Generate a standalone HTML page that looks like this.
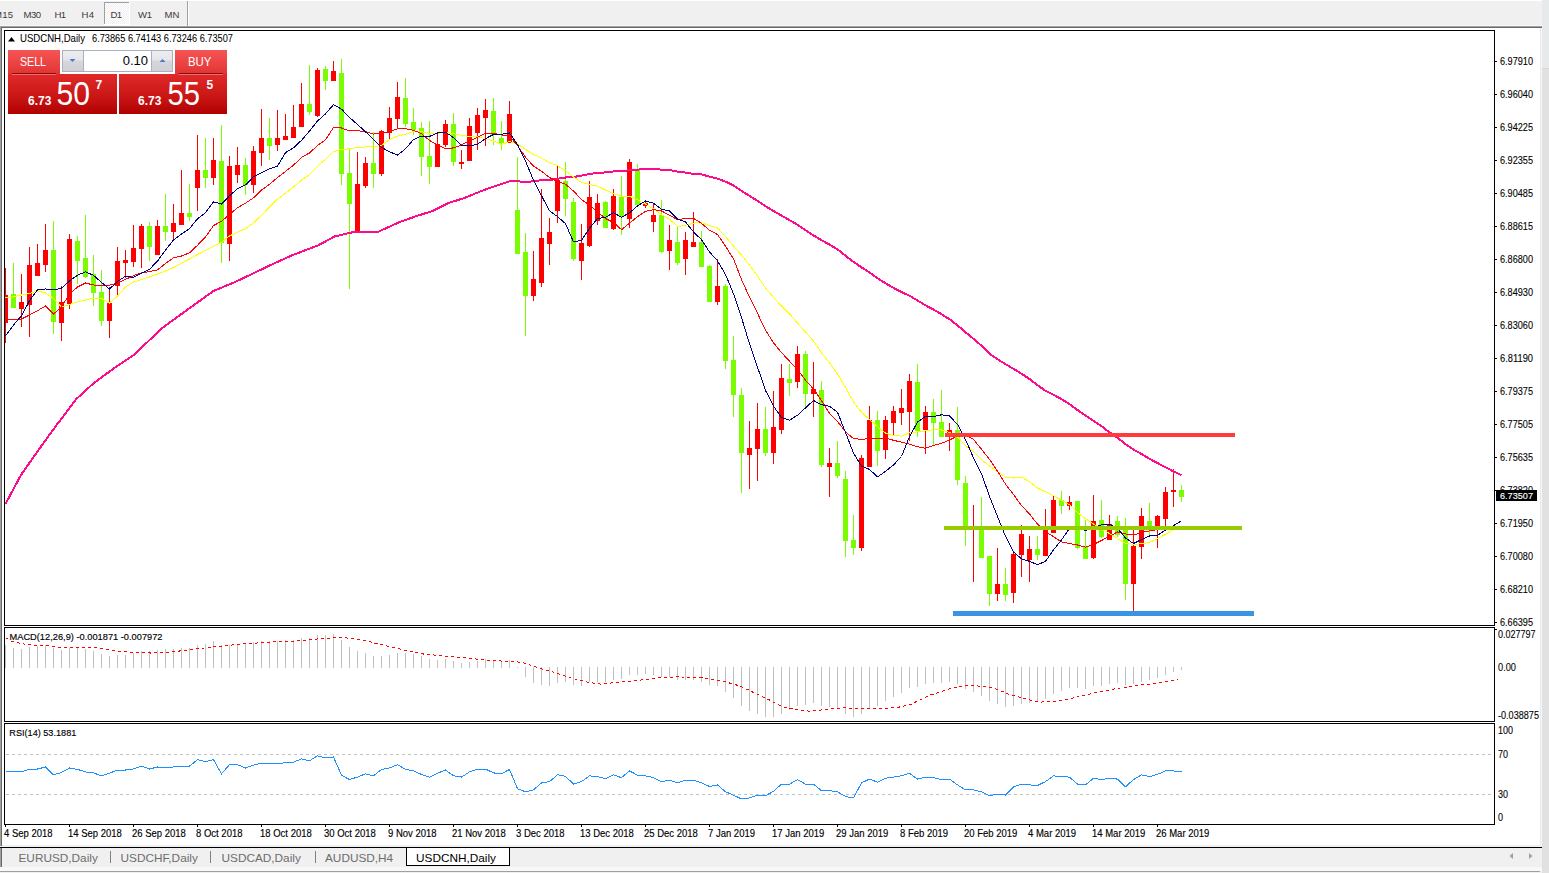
<!DOCTYPE html>
<html><head><meta charset="utf-8"><style>
html,body{margin:0;padding:0;width:1549px;height:873px;overflow:hidden;background:#F0F0F0}
svg{display:block}
</style></head><body>
<svg width="1549" height="873" viewBox="0 0 1549 873" shape-rendering="crispEdges">
<rect x="0" y="0" width="1549" height="873" fill="#F0F0F0" />
<rect x="1542" y="0" width="7" height="873" fill="#E1E1E1" />
<rect x="1542" y="0" width="7" height="68" fill="#E7EAEB" />
<rect x="1542" y="68" width="7" height="1" fill="#D6D6D6" />
<rect x="0" y="25" width="1542" height="1" fill="#F8F8F8" />
<rect x="0" y="26" width="1542" height="1" fill="#A0A0A0" />
<rect x="0" y="27" width="1542" height="1" fill="#696969" />
<rect x="0" y="26" width="1" height="820" fill="#A0A0A0" />
<rect x="1" y="27" width="1" height="819" fill="#696969" />
<rect x="2" y="28" width="1538" height="817" fill="#FFFFFF" />
<rect x="1540" y="28" width="1" height="818" fill="#E8E8E8" />
<rect x="1541" y="28" width="1" height="818" fill="#F8F8F8" />
<rect x="2" y="845" width="1540" height="2" fill="#F0F0F0" />
<rect x="0" y="847" width="1542" height="1" fill="#000000" />
<rect x="0" y="848" width="1" height="19" fill="#A0A0A0" />
<rect x="1" y="848" width="1" height="19" fill="#696969" />
<rect x="0" y="867" width="1542" height="4" fill="#F8F8F8" />
<rect x="0" y="871" width="1540" height="1" fill="#A0A0A0" />
<rect x="0" y="0" width="1542" height="1" fill="#FFFFFF" />
<defs><pattern id="chk" x="0" y="0" width="2" height="2" patternUnits="userSpaceOnUse"><rect width="2" height="2" fill="#F0F0F0"/><rect width="1" height="1" fill="#FFFFFF"/><rect x="1" y="1" width="1" height="1" fill="#FFFFFF"/></pattern></defs>
<rect x="104" y="2" width="25" height="1" fill="#A0A0A0" />
<rect x="104" y="2" width="1" height="23" fill="#A0A0A0" />
<rect x="105" y="3" width="24" height="21" fill="url(#chk)" />
<rect x="129" y="2" width="1" height="23" fill="#FFFFFF" />
<rect x="104" y="24" width="26" height="1" fill="#FFFFFF" />
<rect x="187" y="1" width="1" height="25" fill="#A0A0A0" />
<rect x="188" y="1" width="1" height="25" fill="#FFFFFF" />
<text x="-6" y="18" font-family="Liberation Sans" font-size="9.6" fill="#45383E" textLength="19" lengthAdjust="spacing">M15</text>
<text x="23.5" y="18" font-family="Liberation Sans" font-size="9.6" fill="#45383E" textLength="17.5" lengthAdjust="spacing">M30</text>
<text x="54.6" y="18" font-family="Liberation Sans" font-size="9.6" fill="#45383E" textLength="11.4" lengthAdjust="spacing">H1</text>
<text x="81.6" y="18" font-family="Liberation Sans" font-size="9.6" fill="#45383E" textLength="12.4" lengthAdjust="spacing">H4</text>
<text x="110.6" y="18" font-family="Liberation Sans" font-size="9.6" fill="#45383E" textLength="11.4" lengthAdjust="spacing">D1</text>
<text x="138" y="18" font-family="Liberation Sans" font-size="9.6" fill="#45383E" textLength="14" lengthAdjust="spacing">W1</text>
<text x="164.6" y="18" font-family="Liberation Sans" font-size="9.6" fill="#45383E" textLength="14.9" lengthAdjust="spacing">MN</text>
<defs><clipPath id="cm"><rect x="5" y="31" width="1489" height="594"/></clipPath><clipPath id="cd"><rect x="5" y="628" width="1489" height="93"/></clipPath><pattern id="dp" x="6" y="0" width="6" height="10" patternUnits="userSpaceOnUse"><rect x="0" y="0" width="3" height="10" fill="#fff"/></pattern><mask id="dash"><rect x="0" y="0" width="1549" height="873" fill="url(#dp)"/></mask><clipPath id="cr"><rect x="5" y="724" width="1489" height="100"/></clipPath></defs>
<g clip-path="url(#cm)">
<rect x="5" y="268" width="1" height="75" fill="#FF0000" />
<rect x="3" y="295" width="5" height="28" fill="#FF0000" />
<rect x="13" y="263" width="1" height="45" fill="#7CFC00" />
<rect x="11" y="294" width="5" height="14" fill="#7CFC00" />
<rect x="21" y="274" width="1" height="53" fill="#FF0000" />
<rect x="19" y="302" width="5" height="7" fill="#FF0000" />
<rect x="29" y="247" width="1" height="90" fill="#FF0000" />
<rect x="27" y="265" width="5" height="40" fill="#FF0000" />
<rect x="37" y="244" width="1" height="32" fill="#FF0000" />
<rect x="35" y="263" width="5" height="13" fill="#FF0000" />
<rect x="45" y="224" width="1" height="48" fill="#FF0000" />
<rect x="43" y="250" width="5" height="15" fill="#FF0000" />
<rect x="53" y="221" width="1" height="113" fill="#7CFC00" />
<rect x="51" y="250" width="5" height="72" fill="#7CFC00" />
<rect x="61" y="286" width="1" height="55" fill="#FF0000" />
<rect x="59" y="302" width="5" height="21" fill="#FF0000" />
<rect x="69" y="234" width="1" height="75" fill="#FF0000" />
<rect x="67" y="239" width="5" height="65" fill="#FF0000" />
<rect x="77" y="236" width="1" height="48" fill="#7CFC00" />
<rect x="75" y="241" width="5" height="20" fill="#7CFC00" />
<rect x="85" y="215" width="1" height="63" fill="#7CFC00" />
<rect x="83" y="258" width="5" height="19" fill="#7CFC00" />
<rect x="93" y="255" width="1" height="51" fill="#7CFC00" />
<rect x="91" y="274" width="5" height="19" fill="#7CFC00" />
<rect x="101" y="270" width="1" height="56" fill="#7CFC00" />
<rect x="99" y="292" width="5" height="29" fill="#7CFC00" />
<rect x="109" y="287" width="1" height="51" fill="#FF0000" />
<rect x="107" y="303" width="5" height="18" fill="#FF0000" />
<rect x="117" y="247" width="1" height="48" fill="#FF0000" />
<rect x="115" y="261" width="5" height="25" fill="#FF0000" />
<rect x="125" y="250" width="1" height="28" fill="#FF0000" />
<rect x="123" y="260" width="5" height="3" fill="#FF0000" />
<rect x="133" y="225" width="1" height="42" fill="#FF0000" />
<rect x="131" y="248" width="5" height="14" fill="#FF0000" />
<rect x="141" y="224" width="1" height="44" fill="#FF0000" />
<rect x="139" y="226" width="5" height="23" fill="#FF0000" />
<rect x="149" y="222" width="1" height="39" fill="#7CFC00" />
<rect x="147" y="226" width="5" height="21" fill="#7CFC00" />
<rect x="157" y="220" width="1" height="35" fill="#FF0000" />
<rect x="155" y="226" width="5" height="29" fill="#FF0000" />
<rect x="165" y="194" width="1" height="47" fill="#7CFC00" />
<rect x="163" y="226" width="5" height="6" fill="#7CFC00" />
<rect x="173" y="204" width="1" height="37" fill="#FF0000" />
<rect x="171" y="223" width="5" height="9" fill="#FF0000" />
<rect x="181" y="170" width="1" height="55" fill="#FF0000" />
<rect x="179" y="213" width="5" height="12" fill="#FF0000" />
<rect x="189" y="184" width="1" height="37" fill="#7CFC00" />
<rect x="187" y="213" width="5" height="4" fill="#7CFC00" />
<rect x="197" y="135" width="1" height="76" fill="#FF0000" />
<rect x="195" y="170" width="5" height="18" fill="#FF0000" />
<rect x="205" y="138" width="1" height="50" fill="#7CFC00" />
<rect x="203" y="170" width="5" height="8" fill="#7CFC00" />
<rect x="213" y="138" width="1" height="47" fill="#FF0000" />
<rect x="211" y="160" width="5" height="18" fill="#FF0000" />
<rect x="221" y="125" width="1" height="138" fill="#7CFC00" />
<rect x="219" y="161" width="5" height="82" fill="#7CFC00" />
<rect x="229" y="156" width="1" height="105" fill="#FF0000" />
<rect x="227" y="166" width="5" height="78" fill="#FF0000" />
<rect x="237" y="147" width="1" height="36" fill="#FF0000" />
<rect x="235" y="165" width="5" height="10" fill="#FF0000" />
<rect x="245" y="158" width="1" height="37" fill="#7CFC00" />
<rect x="243" y="165" width="5" height="20" fill="#7CFC00" />
<rect x="253" y="146" width="1" height="47" fill="#FF0000" />
<rect x="251" y="151" width="5" height="34" fill="#FF0000" />
<rect x="261" y="109" width="1" height="57" fill="#FF0000" />
<rect x="259" y="138" width="5" height="15" fill="#FF0000" />
<rect x="269" y="118" width="1" height="42" fill="#7CFC00" />
<rect x="267" y="138" width="5" height="8" fill="#7CFC00" />
<rect x="277" y="110" width="1" height="41" fill="#FF0000" />
<rect x="275" y="138" width="5" height="7" fill="#FF0000" />
<rect x="285" y="114" width="1" height="26" fill="#FF0000" />
<rect x="283" y="136" width="5" height="4" fill="#FF0000" />
<rect x="293" y="105" width="1" height="33" fill="#FF0000" />
<rect x="291" y="127" width="5" height="11" fill="#FF0000" />
<rect x="301" y="83" width="1" height="44" fill="#FF0000" />
<rect x="299" y="104" width="5" height="23" fill="#FF0000" />
<rect x="309" y="65" width="1" height="50" fill="#7CFC00" />
<rect x="307" y="104" width="5" height="8" fill="#7CFC00" />
<rect x="317" y="68" width="1" height="49" fill="#FF0000" />
<rect x="315" y="70" width="5" height="46" fill="#FF0000" />
<rect x="325" y="66" width="1" height="24" fill="#7CFC00" />
<rect x="323" y="69" width="5" height="12" fill="#7CFC00" />
<rect x="333" y="61" width="1" height="20" fill="#FF0000" />
<rect x="331" y="71" width="5" height="10" fill="#FF0000" />
<rect x="341" y="59" width="1" height="126" fill="#7CFC00" />
<rect x="339" y="73" width="5" height="101" fill="#7CFC00" />
<rect x="349" y="148" width="1" height="141" fill="#7CFC00" />
<rect x="347" y="173" width="5" height="31" fill="#7CFC00" />
<rect x="357" y="152" width="1" height="81" fill="#FF0000" />
<rect x="355" y="184" width="5" height="49" fill="#FF0000" />
<rect x="365" y="157" width="1" height="31" fill="#FF0000" />
<rect x="363" y="163" width="5" height="23" fill="#FF0000" />
<rect x="373" y="132" width="1" height="56" fill="#7CFC00" />
<rect x="371" y="163" width="5" height="11" fill="#7CFC00" />
<rect x="381" y="130" width="1" height="46" fill="#FF0000" />
<rect x="379" y="131" width="5" height="43" fill="#FF0000" />
<rect x="389" y="107" width="1" height="32" fill="#FF0000" />
<rect x="387" y="118" width="5" height="15" fill="#FF0000" />
<rect x="397" y="82" width="1" height="46" fill="#FF0000" />
<rect x="395" y="97" width="5" height="22" fill="#FF0000" />
<rect x="405" y="78" width="1" height="49" fill="#7CFC00" />
<rect x="403" y="98" width="5" height="26" fill="#7CFC00" />
<rect x="413" y="108" width="1" height="27" fill="#7CFC00" />
<rect x="411" y="122" width="5" height="8" fill="#7CFC00" />
<rect x="421" y="122" width="1" height="54" fill="#7CFC00" />
<rect x="419" y="128" width="5" height="29" fill="#7CFC00" />
<rect x="429" y="121" width="1" height="63" fill="#7CFC00" />
<rect x="427" y="156" width="5" height="11" fill="#7CFC00" />
<rect x="437" y="133" width="1" height="34" fill="#FF0000" />
<rect x="435" y="144" width="5" height="23" fill="#FF0000" />
<rect x="445" y="120" width="1" height="27" fill="#FF0000" />
<rect x="443" y="124" width="5" height="21" fill="#FF0000" />
<rect x="453" y="113" width="1" height="53" fill="#7CFC00" />
<rect x="451" y="124" width="5" height="38" fill="#7CFC00" />
<rect x="461" y="150" width="1" height="19" fill="#FF0000" />
<rect x="459" y="162" width="5" height="2" fill="#FF0000" />
<rect x="469" y="118" width="1" height="43" fill="#FF0000" />
<rect x="467" y="126" width="5" height="35" fill="#FF0000" />
<rect x="477" y="108" width="1" height="42" fill="#FF0000" />
<rect x="475" y="115" width="5" height="18" fill="#FF0000" />
<rect x="485" y="99" width="1" height="47" fill="#FF0000" />
<rect x="483" y="110" width="5" height="8" fill="#FF0000" />
<rect x="493" y="98" width="1" height="47" fill="#7CFC00" />
<rect x="491" y="111" width="5" height="24" fill="#7CFC00" />
<rect x="501" y="121" width="1" height="29" fill="#7CFC00" />
<rect x="499" y="138" width="5" height="5" fill="#7CFC00" />
<rect x="509" y="101" width="1" height="42" fill="#FF0000" />
<rect x="507" y="114" width="5" height="29" fill="#FF0000" />
<rect x="517" y="157" width="1" height="97" fill="#7CFC00" />
<rect x="515" y="210" width="5" height="44" fill="#7CFC00" />
<rect x="525" y="233" width="1" height="103" fill="#7CFC00" />
<rect x="523" y="252" width="5" height="44" fill="#7CFC00" />
<rect x="533" y="251" width="1" height="50" fill="#FF0000" />
<rect x="531" y="279" width="5" height="17" fill="#FF0000" />
<rect x="541" y="189" width="1" height="98" fill="#FF0000" />
<rect x="539" y="238" width="5" height="45" fill="#FF0000" />
<rect x="549" y="218" width="1" height="47" fill="#FF0000" />
<rect x="547" y="232" width="5" height="12" fill="#FF0000" />
<rect x="557" y="166" width="1" height="57" fill="#FF0000" />
<rect x="555" y="180" width="5" height="31" fill="#FF0000" />
<rect x="565" y="162" width="1" height="54" fill="#7CFC00" />
<rect x="563" y="181" width="5" height="18" fill="#7CFC00" />
<rect x="573" y="198" width="1" height="63" fill="#7CFC00" />
<rect x="571" y="202" width="5" height="57" fill="#7CFC00" />
<rect x="581" y="224" width="1" height="56" fill="#FF0000" />
<rect x="579" y="243" width="5" height="18" fill="#FF0000" />
<rect x="589" y="181" width="1" height="66" fill="#FF0000" />
<rect x="587" y="197" width="5" height="49" fill="#FF0000" />
<rect x="597" y="194" width="1" height="31" fill="#FF0000" />
<rect x="595" y="203" width="5" height="18" fill="#FF0000" />
<rect x="605" y="201" width="1" height="27" fill="#7CFC00" />
<rect x="603" y="202" width="5" height="26" fill="#7CFC00" />
<rect x="613" y="189" width="1" height="41" fill="#FF0000" />
<rect x="611" y="196" width="5" height="33" fill="#FF0000" />
<rect x="621" y="176" width="1" height="59" fill="#7CFC00" />
<rect x="619" y="197" width="5" height="20" fill="#7CFC00" />
<rect x="629" y="159" width="1" height="69" fill="#FF0000" />
<rect x="627" y="162" width="5" height="57" fill="#FF0000" />
<rect x="637" y="164" width="1" height="41" fill="#7CFC00" />
<rect x="635" y="170" width="5" height="35" fill="#7CFC00" />
<rect x="645" y="201" width="1" height="7" fill="#FF0000" />
<rect x="643" y="203" width="5" height="3" fill="#FF0000" />
<rect x="653" y="204" width="1" height="28" fill="#FF0000" />
<rect x="651" y="215" width="5" height="7" fill="#FF0000" />
<rect x="661" y="200" width="1" height="53" fill="#7CFC00" />
<rect x="659" y="215" width="5" height="37" fill="#7CFC00" />
<rect x="669" y="225" width="1" height="45" fill="#FF0000" />
<rect x="667" y="240" width="5" height="11" fill="#FF0000" />
<rect x="677" y="227" width="1" height="38" fill="#7CFC00" />
<rect x="675" y="242" width="5" height="21" fill="#7CFC00" />
<rect x="685" y="232" width="1" height="43" fill="#FF0000" />
<rect x="683" y="240" width="5" height="19" fill="#FF0000" />
<rect x="693" y="212" width="1" height="35" fill="#FF0000" />
<rect x="691" y="242" width="5" height="5" fill="#FF0000" />
<rect x="701" y="231" width="1" height="36" fill="#7CFC00" />
<rect x="699" y="242" width="5" height="25" fill="#7CFC00" />
<rect x="709" y="265" width="1" height="37" fill="#7CFC00" />
<rect x="707" y="266" width="5" height="36" fill="#7CFC00" />
<rect x="717" y="259" width="1" height="46" fill="#FF0000" />
<rect x="715" y="286" width="5" height="16" fill="#FF0000" />
<rect x="725" y="284" width="1" height="85" fill="#7CFC00" />
<rect x="723" y="286" width="5" height="75" fill="#7CFC00" />
<rect x="733" y="336" width="1" height="81" fill="#7CFC00" />
<rect x="731" y="360" width="5" height="35" fill="#7CFC00" />
<rect x="741" y="388" width="1" height="105" fill="#7CFC00" />
<rect x="739" y="395" width="5" height="58" fill="#7CFC00" />
<rect x="749" y="421" width="1" height="68" fill="#FF0000" />
<rect x="747" y="448" width="5" height="7" fill="#FF0000" />
<rect x="757" y="403" width="1" height="78" fill="#FF0000" />
<rect x="755" y="429" width="5" height="20" fill="#FF0000" />
<rect x="765" y="407" width="1" height="49" fill="#7CFC00" />
<rect x="763" y="429" width="5" height="24" fill="#7CFC00" />
<rect x="773" y="391" width="1" height="73" fill="#FF0000" />
<rect x="771" y="427" width="5" height="26" fill="#FF0000" />
<rect x="781" y="364" width="1" height="70" fill="#FF0000" />
<rect x="779" y="378" width="5" height="52" fill="#FF0000" />
<rect x="789" y="364" width="1" height="32" fill="#7CFC00" />
<rect x="787" y="379" width="5" height="4" fill="#7CFC00" />
<rect x="797" y="346" width="1" height="42" fill="#FF0000" />
<rect x="795" y="354" width="5" height="28" fill="#FF0000" />
<rect x="805" y="351" width="1" height="56" fill="#7CFC00" />
<rect x="803" y="354" width="5" height="40" fill="#7CFC00" />
<rect x="813" y="362" width="1" height="55" fill="#FF0000" />
<rect x="811" y="389" width="5" height="5" fill="#FF0000" />
<rect x="821" y="381" width="1" height="86" fill="#7CFC00" />
<rect x="819" y="390" width="5" height="75" fill="#7CFC00" />
<rect x="829" y="448" width="1" height="49" fill="#FF0000" />
<rect x="827" y="463" width="5" height="4" fill="#FF0000" />
<rect x="837" y="441" width="1" height="37" fill="#7CFC00" />
<rect x="835" y="463" width="5" height="13" fill="#7CFC00" />
<rect x="845" y="471" width="1" height="86" fill="#7CFC00" />
<rect x="843" y="479" width="5" height="62" fill="#7CFC00" />
<rect x="853" y="515" width="1" height="40" fill="#7CFC00" />
<rect x="851" y="540" width="5" height="8" fill="#7CFC00" />
<rect x="861" y="455" width="1" height="96" fill="#FF0000" />
<rect x="859" y="458" width="5" height="90" fill="#FF0000" />
<rect x="869" y="406" width="1" height="61" fill="#FF0000" />
<rect x="867" y="420" width="5" height="47" fill="#FF0000" />
<rect x="877" y="411" width="1" height="55" fill="#7CFC00" />
<rect x="875" y="420" width="5" height="31" fill="#7CFC00" />
<rect x="885" y="416" width="1" height="43" fill="#FF0000" />
<rect x="883" y="420" width="5" height="30" fill="#FF0000" />
<rect x="893" y="406" width="1" height="29" fill="#FF0000" />
<rect x="891" y="411" width="5" height="12" fill="#FF0000" />
<rect x="901" y="389" width="1" height="36" fill="#FF0000" />
<rect x="899" y="408" width="5" height="5" fill="#FF0000" />
<rect x="909" y="374" width="1" height="67" fill="#FF0000" />
<rect x="907" y="381" width="5" height="31" fill="#FF0000" />
<rect x="917" y="364" width="1" height="73" fill="#7CFC00" />
<rect x="915" y="382" width="5" height="49" fill="#7CFC00" />
<rect x="925" y="406" width="1" height="48" fill="#FF0000" />
<rect x="923" y="412" width="5" height="18" fill="#FF0000" />
<rect x="933" y="399" width="1" height="47" fill="#7CFC00" />
<rect x="931" y="412" width="5" height="11" fill="#7CFC00" />
<rect x="941" y="390" width="1" height="45" fill="#7CFC00" />
<rect x="939" y="422" width="5" height="15" fill="#7CFC00" />
<rect x="949" y="423" width="1" height="28" fill="#FF0000" />
<rect x="947" y="430" width="5" height="4" fill="#FF0000" />
<rect x="957" y="407" width="1" height="78" fill="#7CFC00" />
<rect x="955" y="430" width="5" height="50" fill="#7CFC00" />
<rect x="965" y="476" width="1" height="70" fill="#7CFC00" />
<rect x="963" y="483" width="5" height="46" fill="#7CFC00" />
<rect x="973" y="505" width="1" height="77" fill="#FF0000" />
<rect x="971" y="527" width="5" height="3" fill="#FF0000" />
<rect x="981" y="497" width="1" height="61" fill="#7CFC00" />
<rect x="979" y="528" width="5" height="30" fill="#7CFC00" />
<rect x="989" y="556" width="1" height="50" fill="#7CFC00" />
<rect x="987" y="556" width="5" height="38" fill="#7CFC00" />
<rect x="997" y="548" width="1" height="53" fill="#FF0000" />
<rect x="995" y="584" width="5" height="10" fill="#FF0000" />
<rect x="1005" y="568" width="1" height="33" fill="#7CFC00" />
<rect x="1003" y="584" width="5" height="11" fill="#7CFC00" />
<rect x="1013" y="552" width="1" height="51" fill="#FF0000" />
<rect x="1011" y="554" width="5" height="39" fill="#FF0000" />
<rect x="1021" y="525" width="1" height="52" fill="#FF0000" />
<rect x="1019" y="534" width="5" height="21" fill="#FF0000" />
<rect x="1029" y="536" width="1" height="46" fill="#FF0000" />
<rect x="1027" y="549" width="5" height="11" fill="#FF0000" />
<rect x="1037" y="536" width="1" height="24" fill="#7CFC00" />
<rect x="1035" y="549" width="5" height="6" fill="#7CFC00" />
<rect x="1045" y="509" width="1" height="47" fill="#FF0000" />
<rect x="1043" y="530" width="5" height="26" fill="#FF0000" />
<rect x="1053" y="496" width="1" height="37" fill="#FF0000" />
<rect x="1051" y="500" width="5" height="33" fill="#FF0000" />
<rect x="1061" y="491" width="1" height="23" fill="#7CFC00" />
<rect x="1059" y="500" width="5" height="6" fill="#7CFC00" />
<rect x="1069" y="496" width="1" height="14" fill="#FF0000" />
<rect x="1067" y="502" width="5" height="4" fill="#FF0000" />
<rect x="1077" y="501" width="1" height="48" fill="#7CFC00" />
<rect x="1075" y="501" width="5" height="47" fill="#7CFC00" />
<rect x="1085" y="520" width="1" height="39" fill="#7CFC00" />
<rect x="1083" y="547" width="5" height="12" fill="#7CFC00" />
<rect x="1093" y="495" width="1" height="64" fill="#FF0000" />
<rect x="1091" y="521" width="5" height="37" fill="#FF0000" />
<rect x="1101" y="500" width="1" height="38" fill="#7CFC00" />
<rect x="1099" y="520" width="5" height="17" fill="#7CFC00" />
<rect x="1109" y="515" width="1" height="25" fill="#FF0000" />
<rect x="1107" y="524" width="5" height="16" fill="#FF0000" />
<rect x="1117" y="516" width="1" height="21" fill="#7CFC00" />
<rect x="1115" y="521" width="5" height="14" fill="#7CFC00" />
<rect x="1125" y="518" width="1" height="82" fill="#7CFC00" />
<rect x="1123" y="528" width="5" height="56" fill="#7CFC00" />
<rect x="1133" y="530" width="1" height="82" fill="#FF0000" />
<rect x="1131" y="546" width="5" height="38" fill="#FF0000" />
<rect x="1141" y="508" width="1" height="51" fill="#FF0000" />
<rect x="1139" y="516" width="5" height="31" fill="#FF0000" />
<rect x="1149" y="503" width="1" height="34" fill="#7CFC00" />
<rect x="1147" y="521" width="5" height="8" fill="#7CFC00" />
<rect x="1157" y="515" width="1" height="33" fill="#FF0000" />
<rect x="1155" y="516" width="5" height="12" fill="#FF0000" />
<rect x="1165" y="487" width="1" height="40" fill="#FF0000" />
<rect x="1163" y="492" width="5" height="27" fill="#FF0000" />
<rect x="1173" y="469" width="1" height="38" fill="#FF0000" />
<rect x="1171" y="490" width="5" height="2" fill="#FF0000" />
<rect x="1181" y="485" width="1" height="17" fill="#7CFC00" />
<rect x="1179" y="490" width="5" height="7" fill="#7CFC00" />
<polyline points="5.5,504.0 21.1,474.8 41.7,445.5 55.5,426.5 76.1,399.2 93.3,383.5 113.9,368.3 134.5,354.5 161.5,328.5 182.5,313.3 213.5,290.9 234.2,282.4 250.5,274.7 271.1,264.8 291.7,255.5 318.5,245.2 334.5,236.5 351.5,232.5 378.3,231.8 398.5,222.5 415.5,216.4 431.9,211.2 448.5,203.0 464.9,197.8 477.5,192.6 485.5,189.5 493.5,186.6 501.5,183.9 509.5,181.4 517.5,181.3 525.5,182.0 533.5,181.3 541.5,180.2 549.5,180.1 557.5,178.8 565.5,177.5 573.5,177.0 581.5,175.7 589.5,173.9 597.5,172.9 605.5,172.4 613.5,171.5 621.5,171.4 629.5,170.0 637.5,169.6 645.5,169.1 653.5,169.0 661.5,169.6 669.5,170.0 677.5,171.6 685.5,172.6 693.5,174.0 701.5,174.4 709.5,176.6 717.5,178.6 725.5,181.6 733.5,185.6 741.5,190.9 749.5,195.9 757.5,200.8 765.5,206.1 773.5,211.0 781.5,215.6 789.5,220.1 797.5,224.8 805.5,230.1 813.5,235.4 821.5,240.2 829.5,244.6 837.5,249.4 845.5,255.7 853.5,261.9 861.5,267.4 869.5,272.4 877.5,278.3 885.5,283.2 893.5,287.9 901.5,292.1 909.5,295.7 917.5,300.5 925.5,305.3 933.5,309.6 941.5,314.2 949.5,319.2 957.5,325.3 965.5,332.3 973.5,338.8 981.5,345.7 989.5,353.7 997.5,359.2 1005.5,364.2 1013.5,368.8 1021.5,373.7 1029.5,379.0 1037.5,385.2 1045.5,390.8 1053.5,394.8 1061.5,399.1 1069.5,404.2 1077.5,410.0 1085.5,415.5 1093.5,420.9 1101.5,426.2 1109.5,432.3 1117.5,437.8 1125.5,444.1 1133.5,449.6 1141.5,454.0 1149.5,458.8 1157.5,463.1 1165.5,467.3 1173.5,471.4 1181.5,475.3" fill="none" stroke="#FF0A8C" stroke-width="2" />
<polyline points="5.5,298.0 13.5,296.7 21.5,295.0 29.5,293.6 37.5,291.0 45.5,293.0 53.5,298.4 61.5,307.0 69.5,304.7 77.5,301.8 85.5,300.0 93.5,298.4 101.5,298.4 109.5,303.0 117.5,296.0 125.5,287.0 133.5,282.0 141.5,279.6 149.5,277.0 165.5,271.0 173.5,267.6 181.5,263.1 189.5,259.0 197.5,254.5 205.5,250.4 213.5,246.1 221.5,242.4 229.5,235.9 237.5,232.3 245.5,228.7 253.5,222.8 261.5,215.4 269.5,207.1 277.5,199.2 285.5,193.3 293.5,187.0 301.5,180.1 309.5,174.6 317.5,166.3 325.5,159.4 333.5,151.7 341.5,149.3 349.5,148.9 357.5,147.3 365.5,147.0 373.5,146.8 381.5,145.4 389.5,139.5 397.5,136.2 405.5,134.2 413.5,131.6 421.5,131.8 429.5,133.2 437.5,133.2 445.5,132.5 453.5,133.7 461.5,135.4 469.5,136.4 477.5,136.6 485.5,138.5 493.5,141.0 501.5,144.4 509.5,141.6 517.5,144.0 525.5,149.3 533.5,154.8 541.5,157.9 549.5,162.8 557.5,165.7 565.5,170.6 573.5,177.0 581.5,182.5 589.5,184.4 597.5,186.1 605.5,190.0 613.5,193.5 621.5,196.1 629.5,196.1 637.5,199.8 645.5,204.0 653.5,209.0 661.5,214.6 669.5,219.2 677.5,226.3 685.5,225.6 693.5,223.1 701.5,222.5 709.5,225.5 717.5,228.0 725.5,236.6 733.5,246.0 741.5,255.2 749.5,265.0 757.5,276.0 765.5,287.9 773.5,297.4 781.5,306.1 789.5,313.9 797.5,323.1 805.5,332.1 813.5,341.0 821.5,352.8 829.5,362.9 837.5,374.1 845.5,387.4 853.5,402.0 861.5,412.3 869.5,419.6 877.5,426.7 885.5,433.1 893.5,435.5 901.5,436.1 909.5,432.7 917.5,431.8 925.5,431.0 933.5,429.6 941.5,430.0 949.5,432.5 957.5,437.1 965.5,445.4 973.5,451.7 981.5,459.7 989.5,465.9 997.5,471.6 1005.5,477.3 1013.5,478.0 1021.5,477.3 1029.5,481.7 1037.5,488.1 1045.5,491.9 1053.5,495.7 1061.5,500.2 1069.5,504.7 1077.5,512.6 1085.5,518.7 1093.5,523.9 1101.5,529.3 1109.5,533.5 1117.5,538.5 1125.5,543.5 1133.5,544.3 1141.5,543.8 1149.5,542.4 1157.5,538.8 1165.5,534.4 1173.5,529.5 1181.5,526.7" fill="none" stroke="#FFFF00" stroke-width="1" />
<polyline points="5.5,319.6 13.5,320.0 21.5,319.0 29.5,315.0 37.5,310.7 45.5,306.0 53.5,314.0 61.5,307.0 69.5,294.0 77.5,287.0 85.5,283.0 93.5,285.0 101.5,286.0 109.5,285.3 117.5,282.8 125.5,279.4 133.5,275.6 141.5,272.8 149.5,271.6 157.5,269.9 165.5,263.5 173.5,257.8 181.5,256.0 189.5,252.8 197.5,245.3 205.5,237.0 213.5,225.6 221.5,221.3 229.5,214.5 237.5,207.7 245.5,203.2 253.5,197.8 261.5,190.1 269.5,184.3 277.5,177.6 285.5,171.4 293.5,165.2 301.5,157.3 309.5,153.0 317.5,145.5 325.5,139.8 333.5,127.5 341.5,128.0 349.5,130.8 357.5,130.7 365.5,131.6 373.5,134.1 381.5,133.1 389.5,131.7 397.5,128.9 405.5,128.6 413.5,130.3 421.5,133.6 429.5,140.4 437.5,145.0 445.5,148.8 453.5,147.9 461.5,145.0 469.5,140.8 477.5,137.5 485.5,133.0 493.5,133.2 501.5,135.0 509.5,136.2 517.5,145.5 525.5,157.3 533.5,166.1 541.5,171.2 549.5,177.5 557.5,181.5 565.5,184.2 573.5,191.1 581.5,199.4 589.5,205.3 597.5,211.9 605.5,218.5 613.5,222.4 621.5,229.7 629.5,223.2 637.5,216.7 645.5,211.3 653.5,209.6 661.5,211.0 669.5,215.2 677.5,219.7 685.5,218.4 693.5,218.3 701.5,223.3 709.5,230.3 717.5,234.5 725.5,246.2 733.5,258.9 741.5,279.6 749.5,297.1 757.5,313.3 765.5,330.2 773.5,342.8 781.5,352.6 789.5,361.2 797.5,369.4 805.5,380.2 813.5,389.0 821.5,400.6 829.5,413.3 837.5,421.4 845.5,431.8 853.5,438.6 861.5,439.3 869.5,438.6 877.5,438.4 885.5,437.9 893.5,440.3 901.5,442.2 909.5,444.1 917.5,446.7 925.5,448.3 933.5,445.3 941.5,443.3 949.5,440.1 957.5,435.8 965.5,434.5 973.5,439.4 981.5,449.2 989.5,459.4 997.5,471.1 1005.5,484.1 1013.5,494.6 1021.5,505.5 1029.5,514.0 1037.5,524.2 1045.5,532.0 1053.5,536.6 1061.5,541.9 1069.5,543.6 1077.5,545.0 1085.5,547.1 1093.5,544.6 1101.5,540.5 1109.5,536.2 1117.5,532.0 1125.5,534.0 1133.5,534.9 1141.5,532.6 1149.5,530.8 1157.5,529.7 1165.5,529.1 1173.5,528.1 1181.5,527.6" fill="none" stroke="#FF0000" stroke-width="1" />
<polyline points="5.5,336.0 13.5,325.0 21.5,315.8 29.5,300.7 37.5,290.0 45.5,289.0 53.5,290.0 61.5,288.1 69.5,281.0 77.5,275.2 85.5,271.9 93.5,275.3 101.5,282.4 109.5,289.1 117.5,281.5 125.5,276.2 133.5,277.4 141.5,273.1 149.5,269.3 157.5,261.1 165.5,250.0 173.5,240.0 181.5,234.1 189.5,228.6 197.5,218.8 205.5,212.7 213.5,201.9 221.5,204.0 229.5,195.8 237.5,188.6 245.5,184.9 253.5,176.8 261.5,172.8 269.5,168.8 277.5,166.0 285.5,152.7 293.5,147.8 301.5,140.3 309.5,131.1 317.5,121.0 325.5,113.9 333.5,104.6 341.5,109.1 349.5,117.5 357.5,124.5 365.5,131.8 373.5,139.6 381.5,147.2 389.5,151.8 397.5,155.1 405.5,148.8 413.5,139.5 421.5,136.1 429.5,136.5 437.5,133.0 445.5,132.1 453.5,137.6 461.5,145.7 469.5,146.0 477.5,144.3 485.5,138.6 493.5,134.5 501.5,134.2 509.5,133.0 517.5,144.5 525.5,161.1 533.5,180.3 541.5,195.6 549.5,210.8 557.5,216.6 565.5,223.7 573.5,241.8 581.5,240.5 589.5,228.2 597.5,218.7 605.5,217.3 613.5,212.8 621.5,217.3 629.5,212.8 637.5,205.9 645.5,201.0 653.5,203.2 661.5,209.2 669.5,210.9 677.5,219.0 685.5,222.0 693.5,231.9 701.5,239.7 709.5,252.0 717.5,260.8 725.5,274.5 733.5,293.8 741.5,317.6 749.5,343.7 757.5,367.1 765.5,390.4 773.5,406.1 781.5,417.6 789.5,420.2 797.5,415.2 805.5,407.9 813.5,400.5 821.5,404.8 829.5,406.2 837.5,412.2 845.5,432.4 853.5,453.1 861.5,466.1 869.5,469.4 877.5,476.9 885.5,471.4 893.5,464.9 901.5,456.5 909.5,436.7 917.5,422.1 925.5,416.3 933.5,416.5 941.5,414.8 949.5,416.0 957.5,424.4 965.5,439.6 973.5,457.8 981.5,473.7 989.5,496.4 997.5,516.6 1005.5,536.3 1013.5,551.9 1021.5,558.8 1029.5,561.3 1037.5,564.7 1045.5,561.4 1053.5,549.9 1061.5,539.9 1069.5,528.5 1077.5,527.7 1085.5,530.6 1093.5,527.2 1101.5,524.9 1109.5,524.1 1117.5,528.3 1125.5,538.0 1133.5,543.5 1141.5,539.6 1149.5,536.0 1157.5,535.5 1165.5,530.0 1173.5,525.6 1181.5,520.9" fill="none" stroke="#000080" stroke-width="1" />
<rect x="945" y="433" width="290" height="4" fill="#FF3B3B" />
<rect x="944" y="526" width="298" height="4" fill="#99CC00" />
<rect x="953" y="611" width="301" height="5" fill="#3994E4" />
</g>
<rect x="4" y="30" width="1491" height="1" fill="#000" />
<rect x="4" y="625" width="1491" height="1" fill="#000" />
<rect x="4" y="30" width="1" height="596" fill="#000" />
<rect x="1494" y="30" width="1" height="596" fill="#000" />
<rect x="4" y="627" width="1491" height="1" fill="#000" />
<rect x="4" y="721" width="1491" height="1" fill="#000" />
<rect x="4" y="627" width="1" height="95" fill="#000" />
<rect x="1494" y="627" width="1" height="95" fill="#000" />
<rect x="4" y="723" width="1491" height="1" fill="#000" />
<rect x="4" y="824" width="1491" height="1" fill="#000" />
<rect x="4" y="723" width="1" height="102" fill="#000" />
<rect x="1494" y="723" width="1" height="102" fill="#000" />
<rect x="1495" y="61" width="2" height="1" fill="#000" />
<text x="1500" y="65" font-family="Liberation Sans" font-size="10.4" fill="#000" font-weight="normal" text-anchor="start" textLength="33" lengthAdjust="spacingAndGlyphs" stroke="#000" stroke-width="0.1">6.97910</text>
<rect x="1495" y="94" width="2" height="1" fill="#000" />
<text x="1500" y="98" font-family="Liberation Sans" font-size="10.4" fill="#000" font-weight="normal" text-anchor="start" textLength="33" lengthAdjust="spacingAndGlyphs" stroke="#000" stroke-width="0.1">6.96040</text>
<rect x="1495" y="127" width="2" height="1" fill="#000" />
<text x="1500" y="131" font-family="Liberation Sans" font-size="10.4" fill="#000" font-weight="normal" text-anchor="start" textLength="33" lengthAdjust="spacingAndGlyphs" stroke="#000" stroke-width="0.1">6.94225</text>
<rect x="1495" y="160" width="2" height="1" fill="#000" />
<text x="1500" y="164" font-family="Liberation Sans" font-size="10.4" fill="#000" font-weight="normal" text-anchor="start" textLength="33" lengthAdjust="spacingAndGlyphs" stroke="#000" stroke-width="0.1">6.92355</text>
<rect x="1495" y="193" width="2" height="1" fill="#000" />
<text x="1500" y="197" font-family="Liberation Sans" font-size="10.4" fill="#000" font-weight="normal" text-anchor="start" textLength="33" lengthAdjust="spacingAndGlyphs" stroke="#000" stroke-width="0.1">6.90485</text>
<rect x="1495" y="226" width="2" height="1" fill="#000" />
<text x="1500" y="230" font-family="Liberation Sans" font-size="10.4" fill="#000" font-weight="normal" text-anchor="start" textLength="33" lengthAdjust="spacingAndGlyphs" stroke="#000" stroke-width="0.1">6.88615</text>
<rect x="1495" y="259" width="2" height="1" fill="#000" />
<text x="1500" y="263" font-family="Liberation Sans" font-size="10.4" fill="#000" font-weight="normal" text-anchor="start" textLength="33" lengthAdjust="spacingAndGlyphs" stroke="#000" stroke-width="0.1">6.86800</text>
<rect x="1495" y="292" width="2" height="1" fill="#000" />
<text x="1500" y="296" font-family="Liberation Sans" font-size="10.4" fill="#000" font-weight="normal" text-anchor="start" textLength="33" lengthAdjust="spacingAndGlyphs" stroke="#000" stroke-width="0.1">6.84930</text>
<rect x="1495" y="325" width="2" height="1" fill="#000" />
<text x="1500" y="329" font-family="Liberation Sans" font-size="10.4" fill="#000" font-weight="normal" text-anchor="start" textLength="33" lengthAdjust="spacingAndGlyphs" stroke="#000" stroke-width="0.1">6.83060</text>
<rect x="1495" y="358" width="2" height="1" fill="#000" />
<text x="1500" y="362" font-family="Liberation Sans" font-size="10.4" fill="#000" font-weight="normal" text-anchor="start" textLength="33" lengthAdjust="spacingAndGlyphs" stroke="#000" stroke-width="0.1">6.81190</text>
<rect x="1495" y="391" width="2" height="1" fill="#000" />
<text x="1500" y="395" font-family="Liberation Sans" font-size="10.4" fill="#000" font-weight="normal" text-anchor="start" textLength="33" lengthAdjust="spacingAndGlyphs" stroke="#000" stroke-width="0.1">6.79375</text>
<rect x="1495" y="424" width="2" height="1" fill="#000" />
<text x="1500" y="428" font-family="Liberation Sans" font-size="10.4" fill="#000" font-weight="normal" text-anchor="start" textLength="33" lengthAdjust="spacingAndGlyphs" stroke="#000" stroke-width="0.1">6.77505</text>
<rect x="1495" y="457" width="2" height="1" fill="#000" />
<text x="1500" y="461" font-family="Liberation Sans" font-size="10.4" fill="#000" font-weight="normal" text-anchor="start" textLength="33" lengthAdjust="spacingAndGlyphs" stroke="#000" stroke-width="0.1">6.75635</text>
<rect x="1495" y="490" width="2" height="1" fill="#000" />
<text x="1500" y="494" font-family="Liberation Sans" font-size="10.4" fill="#000" font-weight="normal" text-anchor="start" textLength="33" lengthAdjust="spacingAndGlyphs" stroke="#000" stroke-width="0.1">6.73820</text>
<rect x="1495" y="523" width="2" height="1" fill="#000" />
<text x="1500" y="527" font-family="Liberation Sans" font-size="10.4" fill="#000" font-weight="normal" text-anchor="start" textLength="33" lengthAdjust="spacingAndGlyphs" stroke="#000" stroke-width="0.1">6.71950</text>
<rect x="1495" y="556" width="2" height="1" fill="#000" />
<text x="1500" y="560" font-family="Liberation Sans" font-size="10.4" fill="#000" font-weight="normal" text-anchor="start" textLength="33" lengthAdjust="spacingAndGlyphs" stroke="#000" stroke-width="0.1">6.70080</text>
<rect x="1495" y="589" width="2" height="1" fill="#000" />
<text x="1500" y="593" font-family="Liberation Sans" font-size="10.4" fill="#000" font-weight="normal" text-anchor="start" textLength="33" lengthAdjust="spacingAndGlyphs" stroke="#000" stroke-width="0.1">6.68210</text>
<rect x="1495" y="622" width="2" height="1" fill="#000" />
<text x="1500" y="626" font-family="Liberation Sans" font-size="10.4" fill="#000" font-weight="normal" text-anchor="start" textLength="33" lengthAdjust="spacingAndGlyphs" stroke="#000" stroke-width="0.1">6.66395</text>
<rect x="1494" y="490" width="43" height="1" fill="#000" />
<rect x="1496" y="491" width="41" height="10" fill="#000" />
<text x="1500" y="499" font-family="Liberation Sans" font-size="9.8" fill="#FFF" font-weight="normal" text-anchor="start" textLength="33" lengthAdjust="spacingAndGlyphs" stroke="#fff" stroke-width="0.15">6.73507</text>
<text x="1498" y="638" font-family="Liberation Sans" font-size="10.4" fill="#000" font-weight="normal" text-anchor="start" textLength="37.5" lengthAdjust="spacingAndGlyphs" stroke="#000" stroke-width="0.1">0.027797</text>
<rect x="1495" y="629" width="2" height="1" fill="#000" />
<text x="1498" y="671" font-family="Liberation Sans" font-size="10.4" fill="#000" font-weight="normal" text-anchor="start" textLength="18" lengthAdjust="spacingAndGlyphs" stroke="#000" stroke-width="0.1">0.00</text>
<text x="1498" y="718.5" font-family="Liberation Sans" font-size="10.4" fill="#000" font-weight="normal" text-anchor="start" textLength="41" lengthAdjust="spacingAndGlyphs" stroke="#000" stroke-width="0.1">-0.038875</text>
<text x="1498" y="734" font-family="Liberation Sans" font-size="10.4" fill="#000" font-weight="normal" text-anchor="start" textLength="15" lengthAdjust="spacingAndGlyphs" stroke="#000" stroke-width="0.1">100</text>
<text x="1498" y="758" font-family="Liberation Sans" font-size="10.4" fill="#000" font-weight="normal" text-anchor="start" textLength="10" lengthAdjust="spacingAndGlyphs" stroke="#000" stroke-width="0.1">70</text>
<text x="1498" y="798" font-family="Liberation Sans" font-size="10.4" fill="#000" font-weight="normal" text-anchor="start" textLength="10" lengthAdjust="spacingAndGlyphs" stroke="#000" stroke-width="0.1">30</text>
<text x="1498" y="821" font-family="Liberation Sans" font-size="10.4" fill="#000" font-weight="normal" text-anchor="start" textLength="5" lengthAdjust="spacingAndGlyphs" stroke="#000" stroke-width="0.1">0</text>
<rect x="5" y="825" width="1" height="2" fill="#000" />
<text x="4" y="837" font-family="Liberation Sans" font-size="10.4" fill="#000" font-weight="normal" text-anchor="start" textLength="48.6" lengthAdjust="spacingAndGlyphs" stroke="#000" stroke-width="0.15">4 Sep 2018</text>
<rect x="69" y="825" width="1" height="2" fill="#000" />
<text x="68" y="837" font-family="Liberation Sans" font-size="10.4" fill="#000" font-weight="normal" text-anchor="start" textLength="53.9" lengthAdjust="spacingAndGlyphs" stroke="#000" stroke-width="0.15">14 Sep 2018</text>
<rect x="133" y="825" width="1" height="2" fill="#000" />
<text x="132" y="837" font-family="Liberation Sans" font-size="10.4" fill="#000" font-weight="normal" text-anchor="start" textLength="53.9" lengthAdjust="spacingAndGlyphs" stroke="#000" stroke-width="0.15">26 Sep 2018</text>
<rect x="197" y="825" width="1" height="2" fill="#000" />
<text x="196" y="837" font-family="Liberation Sans" font-size="10.4" fill="#000" font-weight="normal" text-anchor="start" textLength="46.5" lengthAdjust="spacingAndGlyphs" stroke="#000" stroke-width="0.15">8 Oct 2018</text>
<rect x="261" y="825" width="1" height="2" fill="#000" />
<text x="260" y="837" font-family="Liberation Sans" font-size="10.4" fill="#000" font-weight="normal" text-anchor="start" textLength="51.8" lengthAdjust="spacingAndGlyphs" stroke="#000" stroke-width="0.15">18 Oct 2018</text>
<rect x="325" y="825" width="1" height="2" fill="#000" />
<text x="324" y="837" font-family="Liberation Sans" font-size="10.4" fill="#000" font-weight="normal" text-anchor="start" textLength="51.8" lengthAdjust="spacingAndGlyphs" stroke="#000" stroke-width="0.15">30 Oct 2018</text>
<rect x="389" y="825" width="1" height="2" fill="#000" />
<text x="388" y="837" font-family="Liberation Sans" font-size="10.4" fill="#000" font-weight="normal" text-anchor="start" textLength="48.6" lengthAdjust="spacingAndGlyphs" stroke="#000" stroke-width="0.15">9 Nov 2018</text>
<rect x="453" y="825" width="1" height="2" fill="#000" />
<text x="452" y="837" font-family="Liberation Sans" font-size="10.4" fill="#000" font-weight="normal" text-anchor="start" textLength="53.9" lengthAdjust="spacingAndGlyphs" stroke="#000" stroke-width="0.15">21 Nov 2018</text>
<rect x="517" y="825" width="1" height="2" fill="#000" />
<text x="516" y="837" font-family="Liberation Sans" font-size="10.4" fill="#000" font-weight="normal" text-anchor="start" textLength="48.6" lengthAdjust="spacingAndGlyphs" stroke="#000" stroke-width="0.15">3 Dec 2018</text>
<rect x="581" y="825" width="1" height="2" fill="#000" />
<text x="580" y="837" font-family="Liberation Sans" font-size="10.4" fill="#000" font-weight="normal" text-anchor="start" textLength="53.9" lengthAdjust="spacingAndGlyphs" stroke="#000" stroke-width="0.15">13 Dec 2018</text>
<rect x="645" y="825" width="1" height="2" fill="#000" />
<text x="644" y="837" font-family="Liberation Sans" font-size="10.4" fill="#000" font-weight="normal" text-anchor="start" textLength="53.9" lengthAdjust="spacingAndGlyphs" stroke="#000" stroke-width="0.15">25 Dec 2018</text>
<rect x="709" y="825" width="1" height="2" fill="#000" />
<text x="708" y="837" font-family="Liberation Sans" font-size="10.4" fill="#000" font-weight="normal" text-anchor="start" textLength="47.0" lengthAdjust="spacingAndGlyphs" stroke="#000" stroke-width="0.15">7 Jan 2019</text>
<rect x="773" y="825" width="1" height="2" fill="#000" />
<text x="772" y="837" font-family="Liberation Sans" font-size="10.4" fill="#000" font-weight="normal" text-anchor="start" textLength="52.3" lengthAdjust="spacingAndGlyphs" stroke="#000" stroke-width="0.15">17 Jan 2019</text>
<rect x="837" y="825" width="1" height="2" fill="#000" />
<text x="836" y="837" font-family="Liberation Sans" font-size="10.4" fill="#000" font-weight="normal" text-anchor="start" textLength="52.3" lengthAdjust="spacingAndGlyphs" stroke="#000" stroke-width="0.15">29 Jan 2019</text>
<rect x="901" y="825" width="1" height="2" fill="#000" />
<text x="900" y="837" font-family="Liberation Sans" font-size="10.4" fill="#000" font-weight="normal" text-anchor="start" textLength="48.1" lengthAdjust="spacingAndGlyphs" stroke="#000" stroke-width="0.15">8 Feb 2019</text>
<rect x="965" y="825" width="1" height="2" fill="#000" />
<text x="964" y="837" font-family="Liberation Sans" font-size="10.4" fill="#000" font-weight="normal" text-anchor="start" textLength="53.3" lengthAdjust="spacingAndGlyphs" stroke="#000" stroke-width="0.15">20 Feb 2019</text>
<rect x="1029" y="825" width="1" height="2" fill="#000" />
<text x="1028" y="837" font-family="Liberation Sans" font-size="10.4" fill="#000" font-weight="normal" text-anchor="start" textLength="48.1" lengthAdjust="spacingAndGlyphs" stroke="#000" stroke-width="0.15">4 Mar 2019</text>
<rect x="1093" y="825" width="1" height="2" fill="#000" />
<text x="1092" y="837" font-family="Liberation Sans" font-size="10.4" fill="#000" font-weight="normal" text-anchor="start" textLength="53.3" lengthAdjust="spacingAndGlyphs" stroke="#000" stroke-width="0.15">14 Mar 2019</text>
<rect x="1157" y="825" width="1" height="2" fill="#000" />
<text x="1156" y="837" font-family="Liberation Sans" font-size="10.4" fill="#000" font-weight="normal" text-anchor="start" textLength="53.3" lengthAdjust="spacingAndGlyphs" stroke="#000" stroke-width="0.15">26 Mar 2019</text>
<g clip-path="url(#cd)">
<rect x="5" y="645" width="1" height="23" fill="#C0C0C0" />
<rect x="13" y="648" width="1" height="20" fill="#C0C0C0" />
<rect x="21" y="649" width="1" height="19" fill="#C0C0C0" />
<rect x="29" y="647" width="1" height="21" fill="#C0C0C0" />
<rect x="37" y="646" width="1" height="22" fill="#C0C0C0" />
<rect x="45" y="645" width="1" height="23" fill="#C0C0C0" />
<rect x="53" y="648" width="1" height="20" fill="#C0C0C0" />
<rect x="61" y="650" width="1" height="18" fill="#C0C0C0" />
<rect x="69" y="648" width="1" height="20" fill="#C0C0C0" />
<rect x="77" y="647" width="1" height="21" fill="#C0C0C0" />
<rect x="85" y="649" width="1" height="19" fill="#C0C0C0" />
<rect x="93" y="651" width="1" height="17" fill="#C0C0C0" />
<rect x="101" y="654" width="1" height="14" fill="#C0C0C0" />
<rect x="109" y="656" width="1" height="12" fill="#C0C0C0" />
<rect x="117" y="655" width="1" height="13" fill="#C0C0C0" />
<rect x="125" y="655" width="1" height="13" fill="#C0C0C0" />
<rect x="133" y="653" width="1" height="15" fill="#C0C0C0" />
<rect x="141" y="651" width="1" height="17" fill="#C0C0C0" />
<rect x="149" y="651" width="1" height="17" fill="#C0C0C0" />
<rect x="157" y="650" width="1" height="18" fill="#C0C0C0" />
<rect x="165" y="649" width="1" height="19" fill="#C0C0C0" />
<rect x="173" y="649" width="1" height="19" fill="#C0C0C0" />
<rect x="181" y="648" width="1" height="20" fill="#C0C0C0" />
<rect x="189" y="648" width="1" height="20" fill="#C0C0C0" />
<rect x="197" y="645" width="1" height="23" fill="#C0C0C0" />
<rect x="205" y="644" width="1" height="24" fill="#C0C0C0" />
<rect x="213" y="641" width="1" height="27" fill="#C0C0C0" />
<rect x="221" y="645" width="1" height="23" fill="#C0C0C0" />
<rect x="229" y="645" width="1" height="23" fill="#C0C0C0" />
<rect x="237" y="644" width="1" height="24" fill="#C0C0C0" />
<rect x="245" y="643" width="1" height="25" fill="#C0C0C0" />
<rect x="253" y="642" width="1" height="26" fill="#C0C0C0" />
<rect x="261" y="641" width="1" height="27" fill="#C0C0C0" />
<rect x="269" y="641" width="1" height="27" fill="#C0C0C0" />
<rect x="277" y="641" width="1" height="27" fill="#C0C0C0" />
<rect x="285" y="640" width="1" height="28" fill="#C0C0C0" />
<rect x="293" y="640" width="1" height="28" fill="#C0C0C0" />
<rect x="301" y="638" width="1" height="30" fill="#C0C0C0" />
<rect x="309" y="638" width="1" height="30" fill="#C0C0C0" />
<rect x="317" y="635" width="1" height="33" fill="#C0C0C0" />
<rect x="325" y="635" width="1" height="33" fill="#C0C0C0" />
<rect x="333" y="634" width="1" height="34" fill="#C0C0C0" />
<rect x="341" y="640" width="1" height="28" fill="#C0C0C0" />
<rect x="349" y="647" width="1" height="21" fill="#C0C0C0" />
<rect x="357" y="651" width="1" height="17" fill="#C0C0C0" />
<rect x="365" y="653" width="1" height="15" fill="#C0C0C0" />
<rect x="373" y="656" width="1" height="12" fill="#C0C0C0" />
<rect x="381" y="656" width="1" height="12" fill="#C0C0C0" />
<rect x="389" y="655" width="1" height="13" fill="#C0C0C0" />
<rect x="397" y="653" width="1" height="15" fill="#C0C0C0" />
<rect x="405" y="653" width="1" height="15" fill="#C0C0C0" />
<rect x="413" y="654" width="1" height="14" fill="#C0C0C0" />
<rect x="421" y="656" width="1" height="12" fill="#C0C0C0" />
<rect x="429" y="659" width="1" height="9" fill="#C0C0C0" />
<rect x="437" y="660" width="1" height="8" fill="#C0C0C0" />
<rect x="445" y="659" width="1" height="9" fill="#C0C0C0" />
<rect x="453" y="661" width="1" height="7" fill="#C0C0C0" />
<rect x="461" y="663" width="1" height="5" fill="#C0C0C0" />
<rect x="469" y="662" width="1" height="6" fill="#C0C0C0" />
<rect x="477" y="661" width="1" height="7" fill="#C0C0C0" />
<rect x="485" y="659" width="1" height="9" fill="#C0C0C0" />
<rect x="493" y="660" width="1" height="8" fill="#C0C0C0" />
<rect x="501" y="661" width="1" height="7" fill="#C0C0C0" />
<rect x="509" y="660" width="1" height="8" fill="#C0C0C0" />
<rect x="517" y="667" width="1" height="1" fill="#C0C0C0" />
<rect x="525" y="667" width="1" height="10" fill="#C0C0C0" />
<rect x="533" y="667" width="1" height="16" fill="#C0C0C0" />
<rect x="541" y="667" width="1" height="18" fill="#C0C0C0" />
<rect x="549" y="667" width="1" height="19" fill="#C0C0C0" />
<rect x="557" y="667" width="1" height="16" fill="#C0C0C0" />
<rect x="565" y="667" width="1" height="15" fill="#C0C0C0" />
<rect x="573" y="667" width="1" height="18" fill="#C0C0C0" />
<rect x="581" y="667" width="1" height="19" fill="#C0C0C0" />
<rect x="589" y="667" width="1" height="15" fill="#C0C0C0" />
<rect x="597" y="667" width="1" height="15" fill="#C0C0C0" />
<rect x="605" y="667" width="1" height="15" fill="#C0C0C0" />
<rect x="613" y="667" width="1" height="13" fill="#C0C0C0" />
<rect x="621" y="667" width="1" height="12" fill="#C0C0C0" />
<rect x="629" y="667" width="1" height="8" fill="#C0C0C0" />
<rect x="637" y="667" width="1" height="8" fill="#C0C0C0" />
<rect x="645" y="667" width="1" height="7" fill="#C0C0C0" />
<rect x="653" y="667" width="1" height="8" fill="#C0C0C0" />
<rect x="661" y="667" width="1" height="10" fill="#C0C0C0" />
<rect x="669" y="667" width="1" height="10" fill="#C0C0C0" />
<rect x="677" y="667" width="1" height="13" fill="#C0C0C0" />
<rect x="685" y="667" width="1" height="13" fill="#C0C0C0" />
<rect x="693" y="667" width="1" height="13" fill="#C0C0C0" />
<rect x="701" y="667" width="1" height="15" fill="#C0C0C0" />
<rect x="709" y="667" width="1" height="18" fill="#C0C0C0" />
<rect x="717" y="667" width="1" height="19" fill="#C0C0C0" />
<rect x="725" y="667" width="1" height="25" fill="#C0C0C0" />
<rect x="733" y="667" width="1" height="31" fill="#C0C0C0" />
<rect x="741" y="667" width="1" height="39" fill="#C0C0C0" />
<rect x="749" y="667" width="1" height="44" fill="#C0C0C0" />
<rect x="757" y="667" width="1" height="47" fill="#C0C0C0" />
<rect x="765" y="667" width="1" height="50" fill="#C0C0C0" />
<rect x="773" y="667" width="1" height="50" fill="#C0C0C0" />
<rect x="781" y="667" width="1" height="47" fill="#C0C0C0" />
<rect x="789" y="667" width="1" height="43" fill="#C0C0C0" />
<rect x="797" y="667" width="1" height="39" fill="#C0C0C0" />
<rect x="805" y="667" width="1" height="38" fill="#C0C0C0" />
<rect x="813" y="667" width="1" height="36" fill="#C0C0C0" />
<rect x="821" y="667" width="1" height="39" fill="#C0C0C0" />
<rect x="829" y="667" width="1" height="40" fill="#C0C0C0" />
<rect x="837" y="667" width="1" height="42" fill="#C0C0C0" />
<rect x="845" y="667" width="1" height="47" fill="#C0C0C0" />
<rect x="853" y="667" width="1" height="50" fill="#C0C0C0" />
<rect x="861" y="667" width="1" height="47" fill="#C0C0C0" />
<rect x="869" y="667" width="1" height="42" fill="#C0C0C0" />
<rect x="877" y="667" width="1" height="39" fill="#C0C0C0" />
<rect x="885" y="667" width="1" height="34" fill="#C0C0C0" />
<rect x="893" y="667" width="1" height="30" fill="#C0C0C0" />
<rect x="901" y="667" width="1" height="26" fill="#C0C0C0" />
<rect x="909" y="667" width="1" height="21" fill="#C0C0C0" />
<rect x="917" y="667" width="1" height="20" fill="#C0C0C0" />
<rect x="925" y="667" width="1" height="17" fill="#C0C0C0" />
<rect x="933" y="667" width="1" height="16" fill="#C0C0C0" />
<rect x="941" y="667" width="1" height="16" fill="#C0C0C0" />
<rect x="949" y="667" width="1" height="15" fill="#C0C0C0" />
<rect x="957" y="667" width="1" height="17" fill="#C0C0C0" />
<rect x="965" y="667" width="1" height="22" fill="#C0C0C0" />
<rect x="973" y="667" width="1" height="25" fill="#C0C0C0" />
<rect x="981" y="667" width="1" height="29" fill="#C0C0C0" />
<rect x="989" y="667" width="1" height="34" fill="#C0C0C0" />
<rect x="997" y="667" width="1" height="37" fill="#C0C0C0" />
<rect x="1005" y="667" width="1" height="40" fill="#C0C0C0" />
<rect x="1013" y="667" width="1" height="39" fill="#C0C0C0" />
<rect x="1021" y="667" width="1" height="37" fill="#C0C0C0" />
<rect x="1029" y="667" width="1" height="36" fill="#C0C0C0" />
<rect x="1037" y="667" width="1" height="35" fill="#C0C0C0" />
<rect x="1045" y="667" width="1" height="32" fill="#C0C0C0" />
<rect x="1053" y="667" width="1" height="27" fill="#C0C0C0" />
<rect x="1061" y="667" width="1" height="24" fill="#C0C0C0" />
<rect x="1069" y="667" width="1" height="21" fill="#C0C0C0" />
<rect x="1077" y="667" width="1" height="21" fill="#C0C0C0" />
<rect x="1085" y="667" width="1" height="22" fill="#C0C0C0" />
<rect x="1093" y="667" width="1" height="19" fill="#C0C0C0" />
<rect x="1101" y="667" width="1" height="19" fill="#C0C0C0" />
<rect x="1109" y="667" width="1" height="17" fill="#C0C0C0" />
<rect x="1117" y="667" width="1" height="16" fill="#C0C0C0" />
<rect x="1125" y="667" width="1" height="18" fill="#C0C0C0" />
<rect x="1133" y="667" width="1" height="17" fill="#C0C0C0" />
<rect x="1141" y="667" width="1" height="15" fill="#C0C0C0" />
<rect x="1149" y="667" width="1" height="13" fill="#C0C0C0" />
<rect x="1157" y="667" width="1" height="11" fill="#C0C0C0" />
<rect x="1165" y="667" width="1" height="8" fill="#C0C0C0" />
<rect x="1173" y="667" width="1" height="5" fill="#C0C0C0" />
<rect x="1181" y="667" width="1" height="3" fill="#C0C0C0" />
<polyline points="5.8,637.8 12.1,641.6 18.9,642.9 24.7,644.1 30.5,645.0 37.3,645.8 47.9,645.8 54.7,647.0 66.3,647.2 68.3,647.9 97.3,647.9 103.1,648.9 108.9,649.9 114.7,650.8 126.3,651.8 138.0,652.8 150.5,653.0 169.0,652.3 194.2,649.2 213.5,646.9 242.5,644.0 271.5,642.0 300.5,640.7 312.1,639.5 319.9,638.7 339.2,637.6 350.9,638.2 366.4,640.7 378.0,644.0 391.5,646.9 405.1,650.4 424.5,654.2 447.7,656.2 474.8,658.9 494.2,660.8 513.5,661.4 523.2,662.8 540.7,668.5 556.2,673.0 571.7,678.2 587.2,682.1 600.5,684.1 619.9,682.1 639.2,680.2 658.6,677.9 678.0,676.9 701.2,677.5 712.8,679.4 726.4,682.1 740.0,686.0 755.5,693.4 770.9,700.7 782.6,706.9 794.2,709.2 809.7,711.2 823.2,709.8 842.6,707.9 871.7,708.8 891.0,707.9 900.5,706.9 910.2,704.6 929.5,695.3 948.9,689.1 966.4,685.6 978.0,686.0 993.5,687.9 1009.0,694.3 1026.4,699.2 1040.0,702.1 1055.5,701.5 1074.8,697.6 1094.2,693.0 1113.5,689.1 1132.9,686.0 1152.3,683.7 1167.8,681.7 1178.5,678.8" fill="none" stroke="#FF0000" stroke-width="1" stroke-dasharray="3 3"/>
</g>
<text x="9.5" y="639.7" font-family="Liberation Sans" font-size="9.8" fill="#000" font-weight="normal" text-anchor="start" textLength="153" lengthAdjust="spacingAndGlyphs" stroke="#000" stroke-width="0.15">MACD(12,26,9) -0.001871 -0.007972</text>
<g clip-path="url(#cr)">
<rect x="6" y="754" width="1488" height="1" fill="#C0C0C0" mask="url(#dash)"/>
<rect x="6" y="794" width="1488" height="1" fill="#C0C0C0" mask="url(#dash)"/>
<polyline points="5.5,770.9 13.5,771.9 21.5,771.9 29.5,769.0 37.5,769.0 45.5,767.0 53.5,774.8 61.5,772.5 69.5,768.0 77.5,769.4 85.5,771.9 93.5,772.9 101.5,775.8 109.5,773.2 117.5,770.0 125.5,770.0 133.5,769.0 141.5,766.1 149.5,769.0 157.5,767.0 165.5,768.0 173.5,767.0 181.5,766.1 189.5,766.1 197.5,759.7 205.5,761.6 213.5,759.7 221.5,773.8 229.5,764.7 237.5,764.7 245.5,768.0 253.5,765.1 261.5,763.2 269.5,763.6 277.5,763.6 285.5,762.8 293.5,762.2 301.5,758.9 309.5,760.8 317.5,755.8 325.5,757.8 333.5,757.0 341.5,775.2 349.5,779.6 357.5,777.1 365.5,773.8 373.5,775.8 381.5,769.4 389.5,768.0 397.5,764.7 405.5,769.4 413.5,770.9 421.5,774.4 429.5,777.1 437.5,773.2 445.5,770.0 453.5,775.8 461.5,777.1 469.5,771.9 477.5,769.0 485.5,769.0 493.5,772.9 501.5,773.8 509.5,769.4 517.5,788.7 525.5,791.8 533.5,789.9 541.5,782.9 549.5,781.6 557.5,774.8 565.5,776.3 573.5,784.1 581.5,781.6 589.5,775.8 597.5,776.7 605.5,778.7 613.5,774.8 621.5,777.7 629.5,770.9 637.5,775.2 645.5,775.8 653.5,777.7 661.5,781.6 669.5,780.2 677.5,782.9 685.5,780.2 693.5,780.2 701.5,782.9 709.5,786.4 717.5,784.9 725.5,791.8 733.5,795.1 741.5,799.0 749.5,798.0 757.5,795.1 765.5,795.7 773.5,791.3 781.5,784.1 789.5,784.1 797.5,779.6 805.5,784.1 813.5,784.1 821.5,790.7 829.5,790.7 837.5,791.8 845.5,796.5 853.5,798.0 861.5,782.9 869.5,779.1 877.5,782.2 885.5,778.3 893.5,777.1 901.5,775.8 909.5,773.2 917.5,779.1 925.5,777.1 933.5,777.7 941.5,779.6 949.5,779.1 957.5,784.9 965.5,789.9 973.5,789.9 981.5,791.8 989.5,795.7 997.5,794.2 1005.5,795.1 1013.5,786.8 1021.5,784.1 1029.5,784.9 1037.5,785.5 1045.5,781.6 1053.5,775.8 1061.5,776.7 1069.5,777.1 1077.5,784.1 1085.5,784.9 1093.5,778.3 1101.5,779.6 1109.5,778.3 1117.5,779.1 1125.5,786.8 1133.5,779.6 1141.5,774.8 1149.5,776.7 1157.5,774.4 1165.5,770.9 1173.5,770.9 1181.5,771.9" fill="none" stroke="#1E90FF" stroke-width="1" />
</g>
<text x="9.3" y="735.8" font-family="Liberation Sans" font-size="9.8" fill="#000" font-weight="normal" text-anchor="start" textLength="67" lengthAdjust="spacingAndGlyphs" stroke="#000" stroke-width="0.15">RSI(14) 53.1881</text>
<path d="M8,41.5 L11.5,37 L15,41.5 Z" fill="#000" shape-rendering="auto"/>
<text x="20" y="42" font-family="Liberation Sans" font-size="10.2" fill="#000" font-weight="normal" text-anchor="start" textLength="65" lengthAdjust="spacingAndGlyphs" stroke="#000" stroke-width="0.05">USDCNH,Daily</text>
<text x="92" y="42" font-family="Liberation Sans" font-size="10.2" fill="#000" font-weight="normal" text-anchor="start" textLength="141" lengthAdjust="spacingAndGlyphs" stroke="#000" stroke-width="0.05">6.73865 6.74143 6.73246 6.73507</text>
<text x="18.5" y="862" font-family="Liberation Sans" font-size="11.8" fill="#6D6D6D" font-weight="normal" text-anchor="start" >EURUSD,Daily</text>
<text x="120.5" y="862" font-family="Liberation Sans" font-size="11.8" fill="#6D6D6D" font-weight="normal" text-anchor="start" >USDCHF,Daily</text>
<text x="221.5" y="862" font-family="Liberation Sans" font-size="11.8" fill="#6D6D6D" font-weight="normal" text-anchor="start" >USDCAD,Daily</text>
<text x="325" y="862" font-family="Liberation Sans" font-size="11.8" fill="#6D6D6D" font-weight="normal" text-anchor="start" >AUDUSD,H4</text>
<rect x="110" y="851" width="1" height="12" fill="#808080" />
<rect x="210" y="851" width="1" height="12" fill="#808080" />
<rect x="315" y="851" width="1" height="12" fill="#808080" />
<rect x="406" y="847" width="104" height="19" fill="#000" />
<rect x="407" y="848" width="102" height="17" fill="#FFFFFF" />
<text x="416" y="862" font-family="Liberation Sans" font-size="11.8" fill="#000" font-weight="normal" text-anchor="start" >USDCNH,Daily</text>
<path d="M1513,853 L1509.5,856 L1513,859 Z" fill="#A0A0A0" shape-rendering="auto"/>
<path d="M1529,853 L1532.5,856 L1529,859 Z" fill="#A0A0A0" shape-rendering="auto"/>
<defs>
<linearGradient id="gTab" x1="0" y1="0" x2="0" y2="1"><stop offset="0" stop-color="#F65555"/><stop offset="1" stop-color="#E23434"/></linearGradient>
<linearGradient id="gBig" x1="0" y1="0" x2="0" y2="1"><stop offset="0" stop-color="#E02A2A"/><stop offset="0.6" stop-color="#C91414"/><stop offset="1" stop-color="#B00000"/></linearGradient>
<linearGradient id="gBtn" x1="0" y1="0" x2="0" y2="1"><stop offset="0" stop-color="#EDEDF0"/><stop offset="0.45" stop-color="#E6E6EA"/><stop offset="0.5" stop-color="#D6D6DB"/><stop offset="1" stop-color="#D0D0D6"/></linearGradient>
</defs>
<rect x="8" y="50" width="52" height="24" fill="url(#gTab)" />
<rect x="8" y="74" width="109" height="40" fill="url(#gBig)" />
<rect x="12" y="73" width="44" height="1" fill="#8A0A0A" />
<rect x="12" y="74" width="44" height="1" fill="#F07070" />
<rect x="175" y="50" width="52" height="24" fill="url(#gTab)" />
<rect x="119" y="74" width="108" height="40" fill="url(#gBig)" />
<rect x="179" y="73" width="44" height="1" fill="#8A0A0A" />
<rect x="179" y="74" width="44" height="1" fill="#F07070" />
<rect x="62" y="50" width="111" height="22" fill="#A9B1BD" />
<rect x="63" y="51" width="109" height="20" fill="#FFFFFF" />
<rect x="63" y="51" width="20" height="20" fill="url(#gBtn)" />
<rect x="83" y="51" width="1" height="20" fill="#A9B1BD" />
<rect x="152" y="51" width="20" height="20" fill="url(#gBtn)" />
<rect x="151" y="51" width="1" height="20" fill="#A9B1BD" />
<path d="M69.5,59 L75.5,59 L72.5,62 Z" fill="#3C7FD8" shape-rendering="auto"/>
<path d="M159.5,62 L165.5,62 L162.5,59 Z" fill="#3C7FD8" shape-rendering="auto"/>
<text x="148" y="65" font-family="Liberation Sans" font-size="13" fill="#000" font-weight="normal" text-anchor="end" >0.10</text>
<text x="20" y="65.6" font-family="Liberation Sans" font-size="12" fill="#FFFFFF" font-weight="normal" text-anchor="start" textLength="26" lengthAdjust="spacingAndGlyphs" >SELL</text>
<text x="188" y="65.6" font-family="Liberation Sans" font-size="12" fill="#FFFFFF" font-weight="normal" text-anchor="start" textLength="23.5" lengthAdjust="spacingAndGlyphs" >BUY</text>
<text x="28" y="105" font-family="Liberation Sans" font-size="12" fill="#FFFFFF" font-weight="bold" text-anchor="start" textLength="23.3" lengthAdjust="spacingAndGlyphs" >6.73</text>
<text x="56.5" y="105" font-family="Liberation Sans" font-size="33.5" fill="#FFFFFF" font-weight="normal" text-anchor="start" textLength="33.5" lengthAdjust="spacingAndGlyphs" >50</text>
<text x="95.5" y="89" font-family="Liberation Sans" font-size="12" fill="#FFFFFF" font-weight="bold" text-anchor="start" >7</text>
<text x="138" y="105" font-family="Liberation Sans" font-size="12" fill="#FFFFFF" font-weight="bold" text-anchor="start" textLength="23.3" lengthAdjust="spacingAndGlyphs" >6.73</text>
<text x="167.5" y="105" font-family="Liberation Sans" font-size="33.5" fill="#FFFFFF" font-weight="normal" text-anchor="start" textLength="32.5" lengthAdjust="spacingAndGlyphs" >55</text>
<text x="206.5" y="89" font-family="Liberation Sans" font-size="12" fill="#FFFFFF" font-weight="bold" text-anchor="start" >5</text>
</svg></body></html>
